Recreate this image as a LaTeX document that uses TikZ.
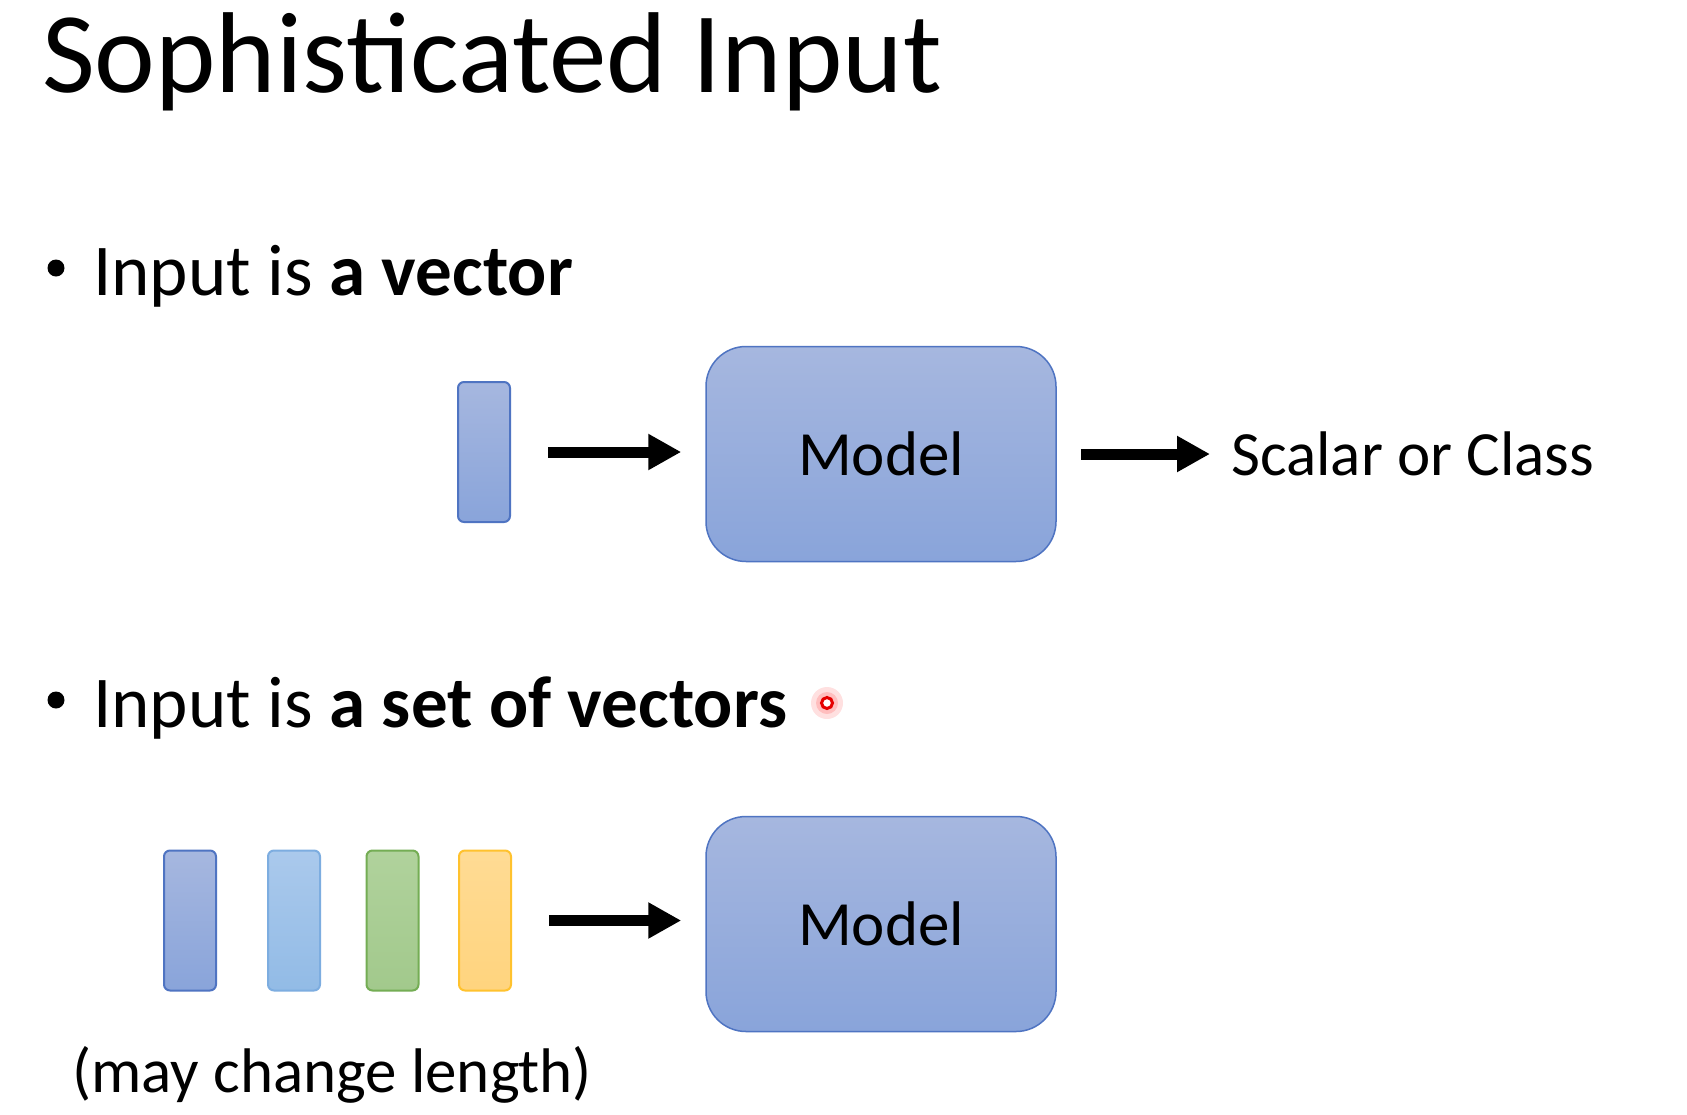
\documentclass[tikz,border=0pt]{standalone}
\usepackage{fontspec}
\setmainfont{Carlito}
\usetikzlibrary{arrows.meta}
\definecolor{mblueT}{HTML}{A6B7DF}
\definecolor{mblueB}{HTML}{89A4DA}
\definecolor{mblueD}{HTML}{4F74C2}
\definecolor{lblueT}{HTML}{AAC9EC}
\definecolor{lblueB}{HTML}{92BBE6}
\definecolor{lblueD}{HTML}{7DADE0}
\definecolor{greenT}{HTML}{B0D29C}
\definecolor{greenB}{HTML}{A2C98C}
\definecolor{greenD}{HTML}{74AD54}
\definecolor{yellT}{HTML}{FFDB94}
\definecolor{yellB}{HTML}{FFD47E}
\definecolor{yellD}{HTML}{FFC22E}
\tikzset{
  x=1pt, y=-1pt,
  txt/.style={inner sep=0pt, anchor=base west, text=black},
  bulletdot/.style={circle, fill=black, inner sep=0pt, minimum size=17pt},
  modelbox/.style={draw=mblueD, line width=1.5pt, rounded corners=40pt,
    top color=mblueT, bottom color=mblueB, minimum width=350pt, minimum height=215pt,
    font=\fontsize{63}{75}\selectfont, inner sep=0pt},
  vecbox/.style n args={3}{draw=#3, line width=2pt, rounded corners=6pt,
    top color=#1, bottom color=#2, minimum width=52pt, minimum height=140pt, inner sep=0pt},
  bigarrow/.style={line width=11pt, -{Triangle[length=33pt,width=34pt]}}
}
\begin{document}
\begin{tikzpicture}
\useasboundingbox (0,0) rectangle (1687,1114);
\fill[white] (0,0) rectangle (1687,1114);
% title
\node[txt, font=\fontsize{115}{138}\selectfont] (title) at (42,92) {Sophisticated Input};
% bullet 1
\node[bulletdot] (bul1) at (56,268) {};
\node[txt, font=\fontsize{73}{88}\selectfont] (b1) at (93,295) {Input is \textbf{a vector}};
% row 1
\node[vecbox={mblueT}{mblueB}{mblueD}] (v1) at (484,452) {};
\node[modelbox] (m1) at (881,454) {Model};
\node[txt, font=\fontsize{63}{75}\selectfont] (out) at (1231,475) {Scalar or Class};
\draw[bigarrow, shorten <=37pt, shorten >=24pt] (v1.east) -- (v1.east -| m1.west);
\draw[bigarrow, shorten <=24pt, shorten >=21pt] (m1.east) -- (m1.east -| out.west);
% bullet 2
\node[bulletdot] (bul2) at (56,700) {};
\node[txt, font=\fontsize{73}{88}\selectfont] (b2) at (93,727) {Input is \textbf{a set of vectors}};
% pointer dot
\fill[red, opacity=0.12] (827,703) circle (16pt);
\fill[red, opacity=0.15] (827,703) circle (11pt);
\draw[red!90!black, line width=3pt, fill=white] (827,703) circle (5.5pt);
% row 2
\node[vecbox={mblueT}{mblueB}{mblueD}] (w1) at (190,920.5) {};
\node[vecbox={lblueT}{lblueB}{lblueD}] (w2) at (294,920.5) {};
\node[vecbox={greenT}{greenB}{greenD}] (w3) at (392.5,920.5) {};
\node[vecbox={yellT}{yellB}{yellD}] (w4) at (485,920.5) {};
\node[modelbox] (m2) at (881,924) {Model};
\draw[bigarrow, shorten <=37pt, shorten >=24pt] (w4.east) -- (w4.east -| m2.west);
\node[txt, font=\fontsize{63}{75}\selectfont] (len) at (72,1092) {(may change length)};
\end{tikzpicture}
\end{document}
